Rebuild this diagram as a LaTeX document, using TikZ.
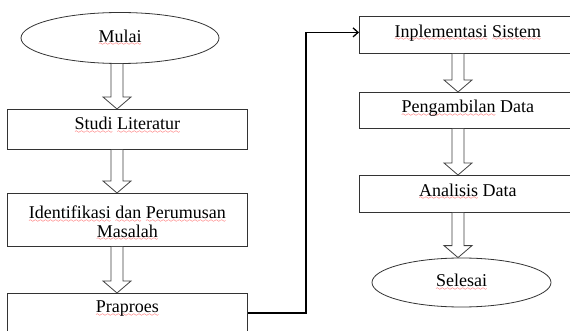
\documentclass[tikz,border=0pt]{standalone}
\usepackage{fontspec}
\setmainfont{Liberation Serif}
\usetikzlibrary{calc,arrows.meta,shapes.geometric}
\font\wavefont=lasy6
\newsavebox\wavebox
\newcommand\rw[1]{\sbox\wavebox{#1}\leavevmode\rlap{\lower3.5pt\hbox to\wd\wavebox{\color{red}\xleaders\hbox{\wavefont\char58}\hfil}}\usebox\wavebox}
\newcommand\harrow[3]{%
  \draw[hollow] ($(#1 |- #2.south)+(-6,0)$) -- ($(#1 |- #3.north)+(-6,-12)$)
    -- ($(#1 |- #3.north)+(-14,-12)$) -- (#1 |- #3.north)
    -- ($(#1 |- #3.north)+(14,-12)$) -- ($(#1 |- #3.north)+(6,-12)$)
    -- ($(#1 |- #2.south)+(6,0)$);}
\begin{document}
\begin{tikzpicture}[x=1pt,y=-1pt,
  font=\fontsize{18}{18.5}\selectfont,
  box/.style={draw=black!80, line width=0.8pt, rectangle, inner sep=0pt, anchor=north west},
  oval/.style={draw=black!80, line width=0.8pt, ellipse, inner sep=0pt},
  lbl/.style={anchor=north, inner sep=0pt, align=center, text=black},
  hollow/.style={draw=black!75, line width=0.8pt, fill=white, line join=miter},
  conn/.style={draw=black, line width=1.5pt, -{Straight Barb[length=5pt,width=9pt,line width=1.3pt]}}]
\useasboundingbox (0,0) rectangle (570,331);
\clip (0,0) rectangle (570,331);
\fill[white] (0,0) rectangle (570,331);
\coordinate (axL) at (117,0);
\coordinate (axR) at (458,0);
% left column
\node[oval, minimum width=198pt, minimum height=51pt, text=black] (mulai) at (120,38) {\rw{Mulai}};
\node[box, minimum width=240pt, minimum height=40pt] (studi) at (7,109) {};
\node[box, minimum width=240pt, minimum height=53pt] (ident) at (7,193) {};
\node[box, minimum width=240pt, minimum height=50pt] (pra) at (7,293) {};
\node[lbl] (tstudi) at ($(studi.north)+(0,8)$) {\rw{Studi} \rw{Literatur}};
\node[lbl] (tident) at ($(ident.north)+(0,13)$) {\rw{Identifikasi} \rw{dan} \rw{Perumusan}\\\rw{Masalah}};
\node[lbl] (tpra) at ($(pra.north)+(0,8)$) {\rw{Praproes}};
% right column
\node[box, minimum width=217pt, minimum height=37pt] (impl) at (359,16) {};
\node[box, minimum width=217pt, minimum height=36pt] (ambil) at (359,92) {};
\node[box, minimum width=217pt, minimum height=37pt] (anal) at (359,175) {};
\node[oval, minimum width=179pt, minimum height=49pt, text=black] (selesai) at (461.5,282.5) {\rw{Selesai}};
\node[lbl] (timpl) at ($(impl.north)+(0,8.5)$) {\rw{Inplementasi} \rw{Sistem}};
\node[lbl] (tambil) at ($(ambil.north)+(0,8)$) {\rw{Pengambilan} Data};
\node[lbl] (tanal) at ($(anal.north)+(0,8.5)$) {\rw{Analisis} Data};
% hollow arrows
\harrow{axL}{mulai}{studi}
\harrow{axL}{studi}{ident}
\harrow{axL}{ident}{pra}
\harrow{axR}{impl}{ambil}
\harrow{axR}{ambil}{anal}
\harrow{axR}{anal}{selesai}
% connector
\coordinate (praout) at ($(pra.north east)+(0,20)$);
\draw[conn] (praout) -| ($(impl.west)+(-53,-2.5)$) -- ($(impl.west)+(0,-2.5)$);
\end{tikzpicture}
\end{document}
